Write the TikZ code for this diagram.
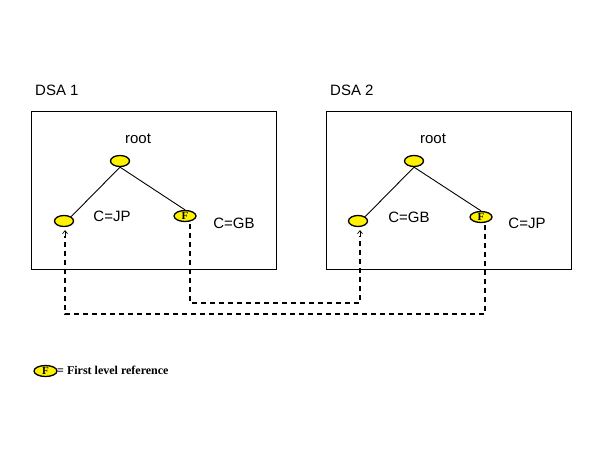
\documentclass[tikz,border=0pt]{standalone}
\usepackage{fontspec}
\setmainfont{Liberation Sans}
\newfontfamily\timesfont{Liberation Serif}
\usetikzlibrary{shapes.geometric,arrows.meta}
\begin{document}
\begin{tikzpicture}[x=1pt,y=-1pt,
  dsabox/.style={draw=black,line width=1pt},
  leaf/.style={ellipse,draw=black,line width=1.3pt,fill=yellow,minimum width=19pt,minimum height=11pt,inner sep=0pt},
  fleaf/.style={leaf,minimum width=22pt,minimum height=11pt,font=\timesfont\bfseries\fontsize{11}{11}\selectfont},
  lbl/.style={font=\fontsize{15}{15}\selectfont,inner sep=0pt},
  edge/.style={draw=black,line width=0.9pt},
  refline/.style={draw=black,line width=1.2pt,dash pattern=on 5pt off 4pt},
  tip/.style={-{Straight Barb[length=3pt,width=5pt,line width=0.7pt]}}
]
\useasboundingbox (0,0) rectangle (599,449);
\fill[white] (0,0) rectangle (599,449);
% boxes
\node[dsabox,minimum width=245pt,minimum height=158pt,anchor=north west,inner sep=0pt] (box1) at (31,111) {};
\node[dsabox,minimum width=245pt,minimum height=158pt,anchor=north west,inner sep=0pt] (box2) at (326,111) {};
\node[lbl,anchor=west] (t1) at (35,90) {DSA 1};
\node[lbl,anchor=west] (t2) at (330,90) {DSA 2};
% tree 1
\node[lbl] (r1l) at (138,139) {root};
\node[leaf] (r1) at (120,161) {};
\node[leaf] (a1) at (64,221) {};
\node[fleaf] (f1) at (185,216) {F};
\node[lbl] (jp1) at (112,216) {C=JP};
\node[lbl] (gb1) at (234,223) {C=GB};
\draw[edge] (r1.south) -- (a1.north east);
\draw[edge] (r1.south) -- (f1.north);
% tree 2
\node[lbl] (r2l) at (433,139) {root};
\node[leaf] (r2) at (414,161) {};
\node[leaf] (a2) at (358,221) {};
\node[fleaf] (f2) at (481,217) {F};
\node[lbl] (gb2) at (409,217) {C=GB};
\node[lbl] (jp2) at (527,223) {C=JP};
\draw[edge] (r2.south) -- (a2.north east);
\draw[edge] (r2.south) -- (f2.north);
% references
\coordinate (c1) at (190,303);
\coordinate (c2) at (360,303);
\coordinate (c3) at (485,314);
\coordinate (c4) at (65,314);
\draw[refline] ([yshift=-2pt]f1.south -| c1) -- (c1) -- (c2) -- ([yshift=-9pt]a2.south -| c2);
\draw[tip] ([yshift=-10pt]a2.south -| c2) -- ([yshift=-3pt]a2.south -| c2);
\draw[refline] ([yshift=-2pt]f2.south -| c3) -- (c3) -- (c4) -- ([yshift=-9pt]a1.south -| c4);
\draw[tip] ([yshift=-10pt]a1.south -| c4) -- ([yshift=-3pt]a1.south -| c4);
% legend
\node[fleaf,minimum width=23pt] (lf) at (45.5,371) {F};
\node[anchor=west,inner sep=0pt,font=\timesfont\bfseries\fontsize{12}{12}\selectfont] (lt) at (57,370) {= First level reference};
\end{tikzpicture}
\end{document}
